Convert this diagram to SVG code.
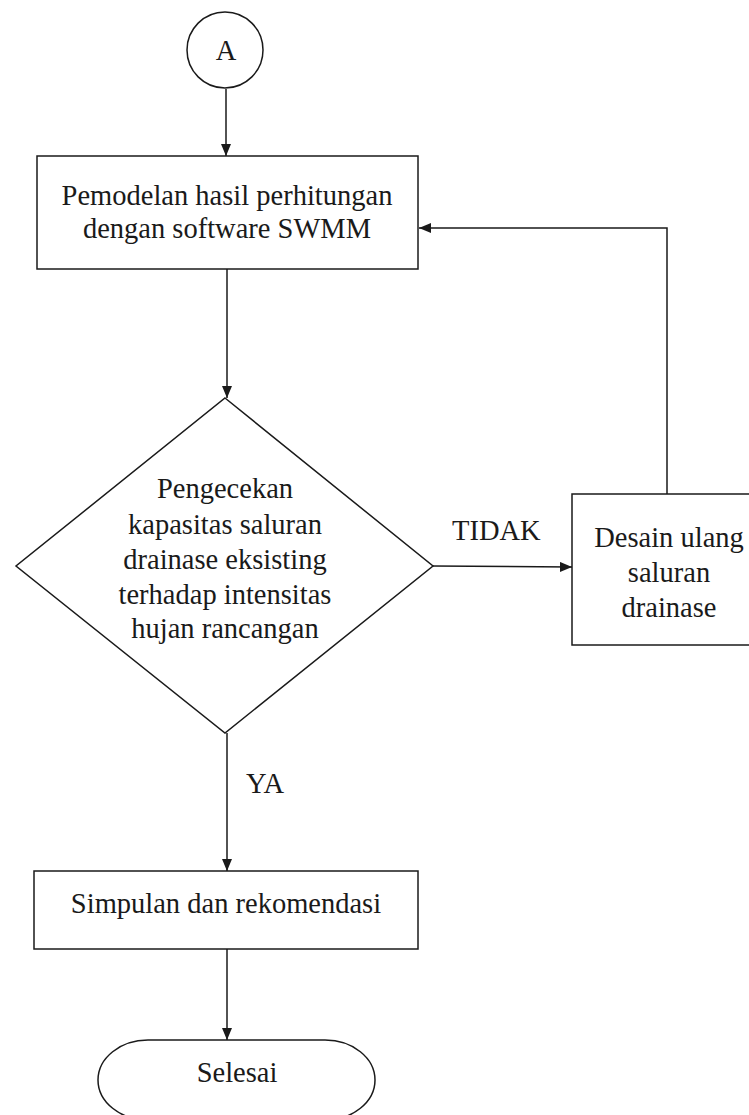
<svg xmlns="http://www.w3.org/2000/svg" width="749" height="1115" viewBox="0 0 749 1115">
  <style>
    .shape { fill: #ffffff; stroke: #1a1a1a; stroke-width: 1.5; }
    .conn { fill: none; stroke: #1a1a1a; stroke-width: 1.5; }
    .t { font-family: 'Liberation Serif', 'DejaVu Serif', serif; font-size: 28.5px; fill: #1a1a1a; text-anchor: middle; }
    .lbl { text-anchor: start; }
  </style>
  <defs>
    <marker id="arrow" markerUnits="userSpaceOnUse" markerWidth="12" markerHeight="10" refX="12" refY="5" orient="auto">
      <path d="M0,0 L12,5 L0,10 z" fill="#1a1a1a"/>
    </marker>
  </defs>
  <rect width="749" height="1115" fill="#ffffff"/>

  <g id="connectors">
    <line class="conn" x1="226" y1="89" x2="226" y2="156" marker-end="url(#arrow)"/>
    <line class="conn" x1="227" y1="269" x2="227" y2="398" marker-end="url(#arrow)"/>
    <line class="conn" x1="432" y1="566" x2="572" y2="567" marker-end="url(#arrow)"/>
    <polyline class="conn" points="667,494 667,228 419,228" marker-end="url(#arrow)"/>
    <line class="conn" x1="227" y1="733" x2="227" y2="871" marker-end="url(#arrow)"/>
    <line class="conn" x1="227" y1="949" x2="227" y2="1040" marker-end="url(#arrow)"/>
    <text class="t lbl" font-family="Liberation Serif, serif" x="452" y="540">TIDAK</text>
    <text class="t lbl" font-family="Liberation Serif, serif" x="246" y="793">YA</text>
  </g>

  <g id="node-a">
    <circle class="shape" cx="225" cy="50" r="38"/>
    <text class="t" font-family="Liberation Serif, serif" x="226" y="60">A</text>
  </g>

  <g id="node-pemodelan">
    <rect class="shape" x="37" y="156" width="381" height="113"/>
    <text class="t" font-family="Liberation Serif, serif" x="227" y="205">Pemodelan hasil perhitungan</text>
    <text class="t" font-family="Liberation Serif, serif" x="227" y="238">dengan software SWMM</text>
  </g>

  <g id="node-pengecekan">
    <polygon class="shape" points="225,398 433,566 225,733 16,566"/>
    <text class="t" font-family="Liberation Serif, serif" x="225" y="498">Pengecekan</text>
    <text class="t" font-family="Liberation Serif, serif" x="225" y="534">kapasitas saluran</text>
    <text class="t" font-family="Liberation Serif, serif" x="225" y="569">drainase eksisting</text>
    <text class="t" font-family="Liberation Serif, serif" x="225" y="604">terhadap intensitas</text>
    <text class="t" font-family="Liberation Serif, serif" x="225" y="638">hujan rancangan</text>
  </g>

  <g id="node-desain">
    <rect class="shape" x="572" y="494" width="196" height="151"/>
    <text class="t" font-family="Liberation Serif, serif" x="669" y="547">Desain ulang</text>
    <text class="t" font-family="Liberation Serif, serif" x="669" y="582">saluran</text>
    <text class="t" font-family="Liberation Serif, serif" x="669" y="617">drainase</text>
  </g>

  <g id="node-simpulan">
    <rect class="shape" x="34" y="871" width="384" height="78"/>
    <text class="t" font-family="Liberation Serif, serif" x="226" y="913">Simpulan dan rekomendasi</text>
  </g>

  <g id="node-selesai">
    <rect class="shape" x="98" y="1040" width="277" height="80" rx="50" ry="40"/>
    <text class="t" font-family="Liberation Serif, serif" x="237" y="1082">Selesai</text>
  </g>
</svg>
